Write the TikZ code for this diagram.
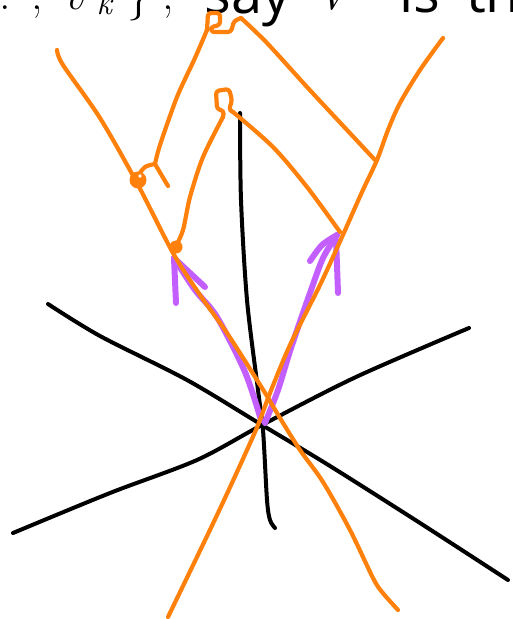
\documentclass[tikz,border=0pt]{standalone}
\usepackage{fontspec}
\setmainfont{Latin Modern Roman}
\newfontfamily\sansf{Open Sans}
\definecolor{inkorange}{RGB}{255,128,10}
\definecolor{inkpurple}{RGB}{195,95,255}
\tikzset{
  blk/.style={draw=black, line width=4pt, line cap=round, line join=round},
  org/.style={draw=inkorange, line width=4.2pt, line cap=round, line join=round},
  pur/.style={draw=inkpurple, line width=6pt, line cap=round, line join=round},
  mtxt/.style={anchor=base, inner sep=0pt, font=\fontsize{46}{52}\selectfont},
  stxt/.style={anchor=base, inner sep=0pt, font=\sansf\fontsize{56}{62}\selectfont},
}
\begin{document}
\begin{tikzpicture}[x=1pt,y=-1pt]
\useasboundingbox (0,0) rectangle (512,619);
\clip (0,0) rectangle (512,619);
% clipped line of text at the top
\node[mtxt] (t1) at (5,9) {.};
\node[mtxt] (t2) at (37,9) {,};
\node[mtxt] (t3) at (75,9) {\textit{v}};
\node[mtxt,font=\fontsize{34}{40}\selectfont] (t4) at (105,14) {\textit{k}};
\node[mtxt] (t5) at (139,9) {\}};
\node[mtxt] (t6) at (168,9) {,};
\node[stxt] (t7) at (248,13) {say};
\node[mtxt] (t8) at (335,9) {\textit{V}};
\node[stxt] (t9) at (420,12) {is};
\node[stxt,anchor=base west] (t10) at (466,12) {th};
% black lines
\coordinate (c) at (262,425);
\draw[blk] plot[smooth] coordinates {(48,304)(100,336)(187,380)(262,425)(330,466)(420,523)(508,580)};
\draw[blk] plot[smooth] coordinates {(13,533)(110,493)(197,460)(262,425)(356,377)(469,328)};
\draw[blk] plot[smooth] coordinates {(240,113)(241,200)(247,300)(258,390)(263,430)(267,500)(270,520)(275,528)};
% purple arrows
\draw[pur] plot[smooth] coordinates {(261,420)(245,372)(217,317)(195,290)(174,258)};
\draw[pur] (174,258) -- (176,303);
\draw[pur] (174,258) -- (205,287);
\draw[pur] plot[smooth] coordinates {(265,423)(278,390)(291,348)(310,293)(323,258)(337,235)};
\draw[pur] plot[smooth] coordinates {(337,235)(322,245)(310,261)};
\draw[pur] plot[smooth] coordinates {(336,240)(337,265)(338,293)};
% orange lines
\draw[org] plot[smooth] coordinates {(57,50)(63,65)(100,118)(137,183)(173,253)(200,295)(227,333)(262,388)(280,418)(300,450)(323,482)(350,530)(373,578)(382,592)(398,610)};
\draw[org] plot[smooth] coordinates {(443,38)(420,70)(400,103)(388,130)(377,160)(362,192)(342,237)(320,285)(290,345)(270,393)(255,432)(218,513)(168,617)};
% outer zigzag
\draw[org] (168,186) -- (155,164);
\draw[org] plot[smooth] coordinates {(155,164)(145,167)(137,177)};
\draw[org] plot[smooth] coordinates {(155,164)(160,145)(177,97)(195,58)(207,30)};
\draw[org,rounded corners=3pt] (207,30) -- (208,13) -- (220,13) -- (220,25) -- (211,27) -- (211,32) -- (231,32) -- (234,21) -- (241,18);
\draw[org] plot[smooth] coordinates {(241,18)(267,43)(307,87)(347,130)(375,160)};
% inner zigzag
\draw[org] plot[smooth] coordinates {(175,248)(183,230)(190,197)(203,157)(223,117)};
\draw[org,rounded corners=3pt] (223,117) -- (224,111) -- (217,109) -- (216,91) -- (229,89) -- (232,100) -- (229,110) -- (233,112);
\draw[org] plot[smooth] coordinates {(233,112)(273,147)(307,187)(340,232)};
% blobs
\fill[inkorange] (138,180) circle (8.5);
\fill[white] (140,176) circle (1.8);
\fill[inkorange] (176,247) circle (6.5);
\end{tikzpicture}
\end{document}
